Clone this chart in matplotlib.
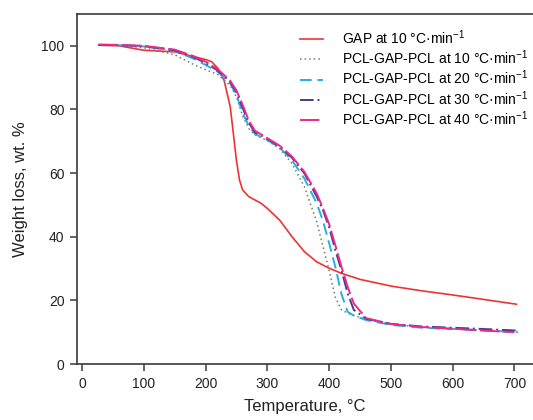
import matplotlib
matplotlib.use('Agg')
import matplotlib.pyplot as plt

plt.rcParams['font.family'] = ['Liberation Sans', 'DejaVu Sans']
plt.rcParams['mathtext.fontset'] = 'custom'
plt.rcParams['mathtext.rm'] = 'Liberation Sans'
plt.rcParams['mathtext.it'] = 'Liberation Sans:italic'
plt.rcParams['mathtext.default'] = 'rm'

# datos (temperatura en °C, masa en wt.%)
t_gap = [27, 60, 100, 150, 200, 210, 220, 230, 240, 245, 250, 255, 260, 270,
         290, 300, 320, 340, 360, 380, 400, 420, 450, 500, 550, 600, 650, 703]
w_gap = [100.2, 100.0, 98.6, 98.1, 95.7, 95.0, 92.9, 89.2, 80.8, 72.5, 64.0,
         57.8, 54.7, 52.6, 50.5, 48.9, 45.2, 40.0, 35.3, 32.1, 30.1, 28.5,
         26.6, 24.5, 23.0, 21.7, 20.3, 18.8]

t_pcl = [27, 60, 100, 150, 180, 200, 220, 240, 250, 260, 270, 280, 300, 320,
         340, 360, 380, 390, 400, 410, 420, 430, 440, 460, 500, 550, 600, 650, 705]
w_pcl10 = [100.2, 100.1, 99.4, 97.2, 94.2, 92.5, 91.0, 87.5, 84.0, 78.0,
           74.0, 72.0, 70.2, 67.7, 63.0, 55.7, 44.7, 37.0, 29.5, 21.0, 17.0,
           16.0, 15.3, 14.0, 12.5, 11.6, 11.1, 10.6, 10.2]
w_pcl20 = [100.2, 100.2, 99.8, 98.4, 96.0, 94.0, 91.8, 88.2, 84.5, 79.0,
           74.8, 72.3, 70.4, 68.0, 64.0, 58.3, 50.5, 45.0, 38.0, 30.6, 22.0,
           16.4, 15.2, 13.8, 12.3, 11.4, 11.0, 10.6, 10.0]
w_pcl30 = [100.3, 100.2, 99.9, 98.6, 96.5, 94.6, 92.2, 88.6, 85.5, 80.5,
           75.8, 72.8, 70.8, 68.3, 64.8, 59.9, 52.6, 48.4, 43.0, 35.8, 29.5,
           22.2, 17.0, 14.2, 12.6, 11.8, 11.4, 11.0, 10.5]
w_pcl40 = [100.4, 100.3, 100.0, 98.8, 96.8, 95.0, 92.6, 89.0, 86.0, 81.5,
           76.5, 73.3, 71.0, 68.6, 65.2, 60.4, 53.6, 49.0, 44.0, 37.4, 30.6,
           24.3, 19.0, 14.4, 12.6, 11.6, 11.1, 10.5, 10.0]

etiquetas = ['GAP at 10 °C·min$^{-1}$',
             'PCL-GAP-PCL at 10 °C·min$^{-1}$',
             'PCL-GAP-PCL at 20 °C·min$^{-1}$',
             'PCL-GAP-PCL at 30 °C·min$^{-1}$',
             'PCL-GAP-PCL at 40 °C·min$^{-1}$']

fig = plt.figure(figsize=(5.33, 4.2), dpi=100)
ax = fig.add_axes([0.1445, 0.1333, 0.8555, 0.8334])

ax.plot(t_gap, w_gap, color='#ee3333', lw=1.2, label=etiquetas[0])
ax.plot(t_pcl, w_pcl10, color='#6f7d70', lw=1.1, ls=(0, (1, 2)), label=etiquetas[1])
ax.plot(t_pcl, w_pcl20, color='#27aee3', lw=1.4, ls=(0, (6, 3)), label=etiquetas[2])
ax.plot(t_pcl, w_pcl30, color='#4a3a8e', lw=1.4, ls=(0, (7, 2, 1, 2)), label=etiquetas[3])
ax.plot(t_pcl[:-1] + [700], w_pcl40, color='#ec2a8a', lw=1.4, ls=(0, (10, 2)), label=etiquetas[4])

ax.set_xlim(-8, 730)
ax.set_ylim(0, 110)
ax.set_xticks([0, 100, 200, 300, 400, 500, 600, 700])
ax.set_yticks([0, 20, 40, 60, 80, 100])

for s in ['left', 'bottom', 'top']:
    ax.spines[s].set_color('#3a3a3a')
    ax.spines[s].set_linewidth(1.2)
ax.spines['right'].set_visible(False)
ax.tick_params(direction='out', length=5, width=1.1, color='#3a3a3a',
               labelsize=10, labelcolor='#222222', pad=4)

ax.set_xlabel('Temperature, °C', fontsize=12, color='#222222', labelpad=6)
ax.set_ylabel('Weight loss, wt. %', fontsize=12, color='#222222', labelpad=10)

ax.legend(loc='upper left', bbox_to_anchor=(0.462, 0.995), frameon=False,
          fontsize=10, handlelength=1.65, handletextpad=1.35, labelspacing=0.12)

fig.savefig('out.png', dpi=100)
